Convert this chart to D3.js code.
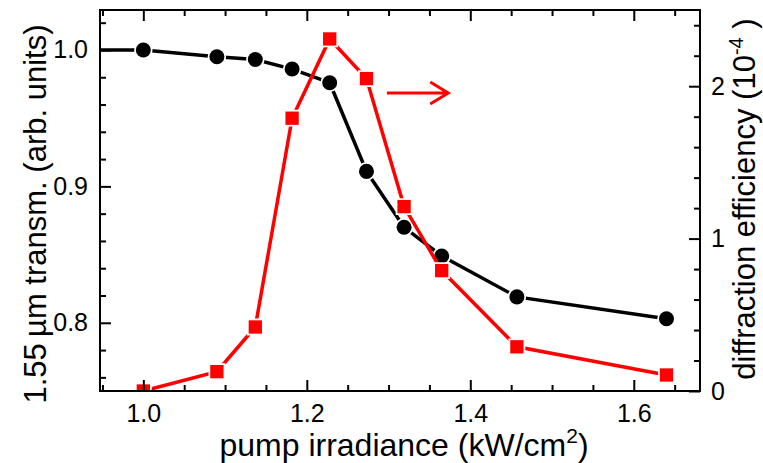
<!DOCTYPE html>
<html>
<head>
<meta charset="utf-8">
<script src="https://cdn.jsdelivr.net/npm/d3@7"></script>
<style>
  body { margin: 0; background: #fff; }
  svg { display: block; }
  text { font-family: "Liberation Sans", Arial, sans-serif; fill: #000; }
</style>
</head>
<body>
<svg id="chart" width="763" height="463"></svg>
<script>
// pump irradiance (kW/cm^2) for each measurement
// first black point sits left of the frame, line just runs in from the axis
const transIrradiance = [0.9, 1.0, 1.09, 1.137, 1.182, 1.228, 1.273, 1.319, 1.365, 1.457, 1.64]
const transmission = [1.0, 1.0, 0.995, 0.993, 0.986, 0.976, 0.911, 0.870, 0.849, 0.819, 0.803]

const effIrradiance = [1.0, 1.09, 1.137, 1.182, 1.228, 1.273, 1.319, 1.365, 1.457, 1.64]
const efficiency = [0.0, 0.127, 0.42, 1.79, 2.31, 2.05, 1.21, 0.79, 0.29, 0.105] // units of 1e-4

const xTickLabels = [1.0, 1.2, 1.4, 1.6]
const leftTickLabels = [0.8, 0.9, 1.0]
const rightTickLabels = [0, 1, 2]

// arrow pointing at the right axis, in data units (x, right y)
const arrowFrom = [1.298, 1.956]
const arrowTo = [1.373, 1.956]

const svg = d3.select("#chart")
const margin = {left: 100, top: 10, right: 63, bottom: 72}
const width = 763 - margin.left - margin.right
const height = 463 - margin.top - margin.bottom

const x = d3.scaleLinear().domain([0.947, 1.681]).range([0, width])
const yL = d3.scaleLinear().domain([0.75, 1.0293]).range([height, 0])
const yR = d3.scaleLinear().domain([0, 2.5]).range([height, 0])

const g = svg.append("g").attr("transform", "translate(" + margin.left + "," + margin.top + ")")

g.append("clipPath").attr("id", "plotclip")
  .append("rect").attr("width", width).attr("height", height)

const plot = g.append("g").attr("clip-path", "url(#plotclip)")

function series(xs, ys, yScale, color, shape) {
  let pts = xs.map((v, i) => [v, ys[i]])
  plot.append("path")
    .datum(pts)
    .attr("fill", "none")
    .attr("stroke", color)
    .attr("stroke-width", 3.5)
    .attr("d", d3.line().x(d => x(d[0])).y(d => yScale(d[1])))
  let sym = d3.symbol().type(shape).size(177)
  plot.selectAll(null)
    .data(pts)
    .enter()
    .append("path")
    .attr("transform", d => "translate(" + x(d[0]) + "," + yScale(d[1]) + ")")
    .attr("d", sym)
    .attr("fill", color)
    .attr("stroke", "#fff")
    .attr("stroke-width", 3.5)
    .style("paint-order", "stroke")
}

series(transIrradiance, transmission, yL, "#000", d3.symbolCircle)
series(effIrradiance, efficiency, yR, "#ff0000", d3.symbolSquare)

// red arrow
const ax0 = x(arrowFrom[0]), ax1 = x(arrowTo[0]), ay = yR(arrowTo[1])
g.append("path")
  .attr("d", "M" + ax0 + "," + ay + "L" + ax1 + "," + ay +
    "M" + (ax1 - 18) + "," + (ay - 11) + "L" + ax1 + "," + ay + "L" + (ax1 - 18) + "," + (ay + 11))
  .attr("fill", "none")
  .attr("stroke", "#ff0000")
  .attr("stroke-width", 3)

// axes, ticks all point inward
const fmt1 = d3.format(".1f")
const xMinor = d3.range(0.95, 1.66, 0.05).filter(v => !xTickLabels.some(t => Math.abs(t - v) < 1e-6))
const lMinor = d3.range(0.76, 1.03, 0.02).filter(v => !leftTickLabels.some(t => Math.abs(t - v) < 1e-6))
const rMinor = d3.range(0.2, 2.5, 0.2).filter(v => !rightTickLabels.some(t => Math.abs(t - v) < 1e-6))

function styleAxis(sel) {
  sel.select(".domain").remove()
  sel.selectAll("line").attr("stroke", "#000").attr("stroke-width", 2)
  sel.selectAll("text").style("font-size", "25px")
  sel.attr("font-family", null)
}

const axBottom = g.append("g").attr("transform", "translate(0," + height + ")")
axBottom.call(d3.axisBottom(x).tickValues(xTickLabels).tickFormat(fmt1).tickSizeInner(-11).tickPadding(13)).call(styleAxis)
axBottom.append("g").call(d3.axisBottom(x).tickValues(xMinor).tickFormat("").tickSizeInner(-6)).call(styleAxis)

const axTop = g.append("g")
axTop.call(d3.axisTop(x).tickValues(xTickLabels).tickFormat("").tickSizeInner(-11)).call(styleAxis)
axTop.append("g").call(d3.axisTop(x).tickValues(xMinor).tickFormat("").tickSizeInner(-6)).call(styleAxis)

const axLeft = g.append("g")
axLeft.call(d3.axisLeft(yL).tickValues(leftTickLabels).tickFormat(fmt1).tickSizeInner(-11).tickPadding(12)).call(styleAxis)
axLeft.append("g").call(d3.axisLeft(yL).tickValues(lMinor).tickFormat("").tickSizeInner(-6)).call(styleAxis)

const axRight = g.append("g").attr("transform", "translate(" + width + ",0)")
axRight.call(d3.axisRight(yR).tickValues(rightTickLabels).tickFormat(d3.format("d")).tickSizeInner(-11).tickPadding(11)).call(styleAxis)
axRight.append("g").call(d3.axisRight(yR).tickValues(rMinor).tickFormat("").tickSizeInner(-6)).call(styleAxis)

// frame
g.append("rect")
  .attr("width", width).attr("height", height)
  .attr("fill", "none").attr("stroke", "#000").attr("stroke-width", 2)

// axis titles
const xt = svg.append("text")
  .attr("x", margin.left + width / 2 + 4).attr("y", 456)
  .attr("text-anchor", "middle").style("font-size", "32px")
xt.append("tspan").text("pump irradiance (kW/cm")
xt.append("tspan").attr("dy", -13).style("font-size", "21px").text("2")
xt.append("tspan").attr("dy", 13).text(")")

svg.append("text")
  .attr("transform", "translate(46,214) rotate(-90)")
  .attr("text-anchor", "middle").style("font-size", "31px")
  .text("1.55\u2009\u00b5m transm. (arb. units)")

const rt = svg.append("text")
  .attr("transform", "translate(755,199) rotate(-90)")
  .attr("text-anchor", "middle").style("font-size", "31px")
rt.append("tspan").text("diffraction efficiency (10")
rt.append("tspan").attr("dy", -12).style("font-size", "20px").text("-4")
rt.append("tspan").attr("dy", 12).text(" )")
</script>
</body>
</html>
